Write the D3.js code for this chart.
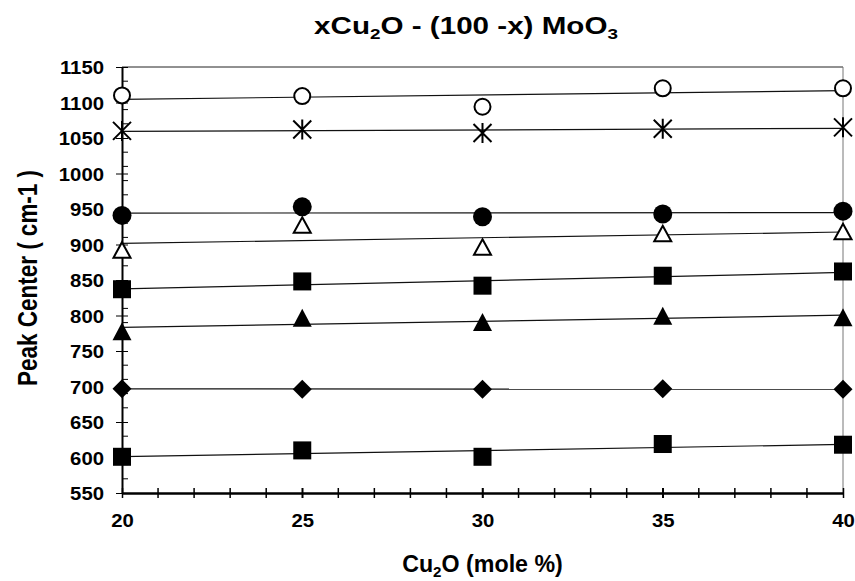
<!DOCTYPE html>
<html>
<head>
<meta charset="utf-8">
<script src="https://cdn.jsdelivr.net/npm/d3@7"></script>
<style>
  html, body { margin: 0; padding: 0; background: #fff; }
  svg { display: block; }
  text { font-family: "Liberation Sans", Arial, sans-serif; font-weight: bold; fill: #000; }
</style>
</head>
<body>
<svg id="chart" width="855" height="581"></svg>
<script>
// Composition (mole % Cu2O)
const xValues = [20, 25, 30, 35, 40];

// Peak centres (cm-1) for each band
const openCircle     = [1110, 1109, 1094, 1120, 1120];
const asterisk       = [1060, 1062, 1057, 1063, 1065];
const filledCircle   = [941, 953, 939, 943, 947];
const openTriangle   = [892, 927, 896, 915, 918];
const upperSquare    = [837, 848, 842, 856, 862];
const filledTriangle = [777, 796, 790, 799, 797];
const diamond        = [697, 696, 696, 697, 696];
const lowerSquare    = [601, 610, 601, 619, 618];

const xTickValues = [20, 25, 30, 35, 40];
const yTickValues = [550, 600, 650, 700, 750, 800, 850, 900, 950, 1000, 1050, 1100, 1150];

const series = [
  { values: openCircle,     marker: "circle",   filled: false },
  { values: asterisk,       marker: "asterisk", filled: false },
  { values: filledCircle,   marker: "circle",   filled: true },
  { values: openTriangle,   marker: "triangle", filled: false },
  { values: upperSquare,    marker: "square",   filled: true },
  { values: filledTriangle, marker: "triangle", filled: true },
  { values: diamond,        marker: "diamond",  filled: true },
  { values: lowerSquare,    marker: "square",   filled: true }
];

const W = 855, H = 581;
const margin = { left: 122, right: 12, top: 67, bottom: 88 };
const iw = W - margin.left - margin.right;
const ih = H - margin.top - margin.bottom;

const svg = d3.select("#chart");
const g = svg.append("g").attr("transform", `translate(${margin.left},${margin.top})`);

const x = d3.scaleLinear().domain([20, 40]).range([0, iw]);
const y = d3.scaleLinear().domain([550, 1150]).range([ih, 0]);

// Frame: thin top and right borders
g.append("line").attr("x1", 0).attr("x2", iw).attr("y1", 0).attr("y2", 0)
  .attr("stroke", "#222").attr("stroke-width", 1);
g.append("line").attr("x1", iw).attr("x2", iw).attr("y1", 0).attr("y2", ih)
  .attr("stroke", "#777").attr("stroke-width", 1);

// Minor ticks: y every 20 from the minimum (inside), x every 1 (crossing)
const yMinor = d3.range(570, 1150, 20).filter(v => (v - 550) % 50 !== 0);
g.append("g").selectAll("line").data(yMinor).join("line")
  .attr("x1", 0).attr("x2", 6).attr("y1", d => y(d)).attr("y2", d => y(d))
  .attr("stroke", "#000").attr("stroke-width", 1);
const xMinor = d3.range(21, 40, 1);
g.append("g").selectAll("line").data(xMinor).join("line")
  .attr("x1", d => x(d)).attr("x2", d => x(d)).attr("y1", ih - 5).attr("y2", ih + 5)
  .attr("stroke", "#000").attr("stroke-width", 1.5);

const labelFont = "Liberation Sans, Arial, sans-serif";

// Axes
const yAxis = d3.axisLeft(y).tickValues(yTickValues).tickFormat(d3.format("d"))
  .tickSizeInner(6).tickSizeOuter(0).tickPadding(12);
const yg = g.append("g").call(yAxis);
yg.select(".domain").attr("stroke-width", 2);
yg.selectAll(".tick line").attr("x2", -6).attr("x1", 6).attr("stroke-width", 1);
yg.selectAll(".tick text")
  .attr("font-size", 19).attr("font-family", labelFont).attr("font-weight", "bold")
  .attr("x", null).attr("dy", null).attr("text-anchor", "end")
  .attr("transform", "translate(-18,6.8) scale(1.07,1)");

const xAxis = d3.axisBottom(x).tickValues(xTickValues).tickFormat(d3.format("d"))
  .tickSizeInner(5).tickSizeOuter(0).tickPadding(20);
const xg = g.append("g").attr("transform", `translate(0,${ih})`).call(xAxis);
xg.select(".domain").attr("stroke-width", 2.5);
xg.selectAll(".tick line").attr("y1", -5).attr("y2", 5).attr("stroke-width", 1.5);
xg.selectAll(".tick text")
  .attr("font-size", 19).attr("font-family", labelFont).attr("font-weight", "bold")
  .attr("y", null).attr("dy", null).attr("text-anchor", "middle")
  .attr("transform", "translate(0,34) scale(1.07,1)");

// Least-squares trend line for each series
function fit(xs, ys) {
  const n = xs.length;
  const mx = d3.mean(xs), my = d3.mean(ys);
  let sxy = 0, sxx = 0;
  for (let i = 0; i < n; i++) { sxy += (xs[i] - mx) * (ys[i] - my); sxx += (xs[i] - mx) ** 2; }
  const b = sxy / sxx, a = my - b * mx;
  return v => a + b * v;
}
const line = d3.line().x(d => x(d[0])).y(d => y(d[1]));
series.forEach(s => {
  const f = fit(xValues, s.values);
  const ends = d3.extent(xValues).map(v => [v, f(v)]);
  g.append("path").attr("d", line(ends)).attr("fill", "none")
    .attr("stroke", "#111").attr("stroke-width", 1.2);
});

// Markers
function drawMarker(sel, type, filled) {
  const fill = filled ? "#000" : "#fff";
  if (type === "circle") {
    sel.append("circle").attr("r", filled ? 9.5 : 8).attr("fill", fill)
      .attr("stroke", "#000").attr("stroke-width", filled ? 0 : 2);
  } else if (type === "square") {
    sel.append("rect").attr("x", -9).attr("y", -9).attr("width", 18).attr("height", 18)
      .attr("fill", "#000");
  } else if (type === "diamond") {
    sel.append("path").attr("d", "M0,-9.5L9.5,0L0,9.5L-9.5,0Z").attr("fill", "#000");
  } else if (type === "triangle") {
    const d = filled ? "M0,-9.5L9.5,8.5L-9.5,8.5Z" : "M0,-8L8.5,7.5L-8.5,7.5Z";
    sel.append("path").attr("d", d).attr("fill", fill)
      .attr("stroke", "#000").attr("stroke-width", filled ? 0 : 2).attr("stroke-linejoin", "miter");
  } else if (type === "asterisk") {
    sel.append("path").attr("d", "M-9,-9L9,9M-9,9L9,-9M0,-10L0,10")
      .attr("fill", "none").attr("stroke", "#000").attr("stroke-width", 2);
  }
}
series.forEach(s => {
  s.values.forEach((v, i) => {
    const m = g.append("g").attr("transform", `translate(${x(xValues[i])},${y(v)})`);
    drawMarker(m, s.marker, s.filled);
  });
});

// Title
const title = svg.append("text").attr("transform", "translate(466,34) scale(1.26,1)")
  .attr("text-anchor", "middle").attr("font-size", 23.5);
title.append("tspan").text("xCu");
title.append("tspan").text("2").attr("font-size", 15).attr("dy", 5);
title.append("tspan").text("O - (100 -x) MoO").attr("dy", -5);
title.append("tspan").text("3").attr("font-size", 15).attr("dy", 5);

// Axis titles
svg.append("text").attr("transform", `translate(37,${margin.top + ih / 2 - 2}) scale(1.25,1) rotate(-90)`)
  .attr("text-anchor", "middle").attr("font-size", 22.5).text("Peak Center ( cm-1 )");

const xt = svg.append("text").attr("transform", `translate(${margin.left + iw / 2},572) scale(1.01,1)`)
  .attr("text-anchor", "middle").attr("font-size", 23);
xt.append("tspan").text("Cu");
xt.append("tspan").text("2").attr("font-size", 15).attr("dy", 5);
xt.append("tspan").text("O (mole %)").attr("dy", -5);
</script>
</body>
</html>
